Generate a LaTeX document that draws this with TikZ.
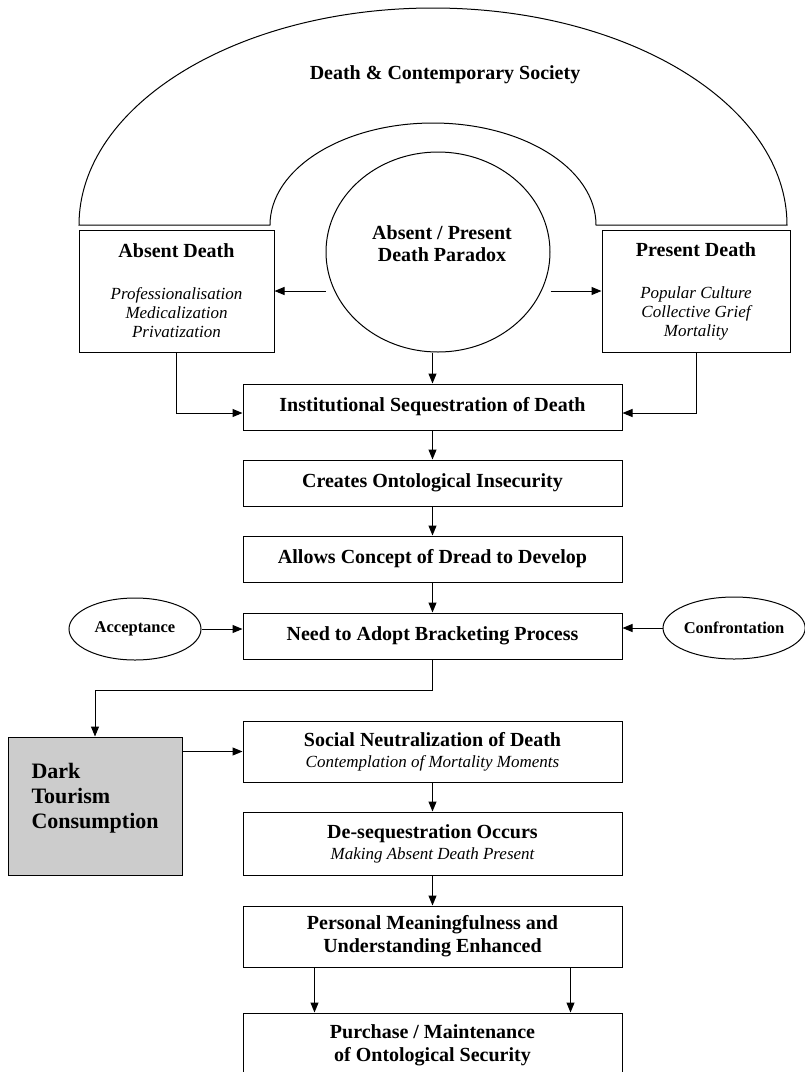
\documentclass[tikz,border=0pt]{standalone}
\usepackage{fontspec}
\setmainfont{Liberation Serif}
\usetikzlibrary{arrows.meta,positioning,shapes.geometric}
\newcommand{\subline}[1]{{\fontsize{17}{19}\selectfont\mdseries\itshape #1}}

\begin{document}
\begin{tikzpicture}[x=1pt,y=1pt,>={Triangle[length=10pt,width=8pt]},line width=1pt,
		main box/.style={rectangle,draw,minimum width=379pt,minimum height=46pt,inner sep=0pt,align=center,font=\fontsize{20}{23}\selectfont\bfseries},
		side box/.style={rectangle,draw,minimum width=195pt,minimum height=122pt,inner sep=0pt,align=center,font=\fontsize{17}{19}\selectfont\itshape},
		oval node/.style={ellipse,draw,minimum height=62pt,inner sep=0pt,font=\fontsize{16.5}{18}\selectfont\bfseries},
		paradox/.style={ellipse,draw,minimum width=224pt,minimum height=200pt,inner sep=0pt},
		title/.style={inner sep=0pt,align=center,font=\fontsize{20}{22}\selectfont\bfseries},
		dark box/.style={rectangle,draw,fill=black!20,minimum width=174pt,minimum height=138pt,inner sep=0pt},
		dark text/.style={inner sep=0pt,align=left,font=\fontsize{22}{25}\selectfont\bfseries}]
		
		\useasboundingbox (0,0) rectangle (805,-1072);
		
		\draw (79,-225) -- (270,-225) arc[start angle=180,end angle=0,x radius=163pt,y radius=102pt]
			-- (787,-225) arc[start angle=0,end angle=180,x radius=354pt,y radius=217pt] -- cycle;
		\node[title] (society) at (445,-75) {Death \& Contemporary Society};
		
		\node[paradox] (para) at (438,-252) {};
		\node[title] (paratext) at (442,-244) {Absent / Present\\Death Paradox};
		\node[side box] (absent) at (176.5,-291) {{\fontsize{20}{19}\selectfont\bfseries\upshape Absent Death}\\[23pt]Professionalisation\\Medicalization\\Privatization};
		\node[side box,minimum width=188pt] (present) at (696,-291) {{\fontsize{20}{19}\selectfont\bfseries\upshape Present Death}\\[23pt]Popular Culture\\Collective Grief\\Mortality};
		
		\node[main box] (inst) at (432.5,-407) {Institutional Sequestration of Death};
		\node[main box] (creates) [below=29pt of inst] {Creates Ontological Insecurity};
		\node[main box] (allows) [below=29pt of creates] {Allows Concept of Dread to Develop};
		\node[main box] (need) [below=30pt of allows] {Need to Adopt Bracketing Process};
		\node[oval node,minimum width=132pt] (acc) [left=41pt of need,yshift=7pt] {Acceptance};
		\node[oval node,minimum width=140pt] (conf) [right=40pt of need,yshift=8pt] {Confrontation};
		\node[main box,minimum height=61pt] (social) [below=61pt of need] {Social Neutralization of Death\\[-2pt]\subline{Contemplation of Mortality Moments}};
		\node[main box,minimum height=63pt] (deseq) [below=29pt of social] {De-sequestration Occurs\\[-2pt]\subline{Making Absent Death Present}};
		\node[main box,minimum height=61pt] (personal) [below=30pt of deseq] {Personal Meaningfulness and\\Understanding Enhanced};
		\node[main box,minimum height=64pt] (purchase) [below=45pt of personal] {Purchase / Maintenance\\of Ontological Security};
		
		\node[dark box] (dark) at (95,-806) {};
		\node[dark text,anchor=west] (darklabel) at (31,-798) {Dark\\Tourism\\Consumption};
		
		\path[->]
		(para.west |- absent.east) edge (absent.east)
		(para.east |- present.west) edge (present.west)
		(inst.north |- para.south) edge (inst.north)
		(inst) edge (creates)
		(creates) edge (allows)
		(allows) edge (need)
		(acc.east) edge (need.west |- acc.east)
		(conf.west) edge (need.east |- conf.west)
		(dark.east |- social.west) edge (social.west)
		(social) edge (deseq)
		(deseq) edge (personal)
		([xshift=-118pt]personal.south) edge ([xshift=-118pt]purchase.north)
		([xshift=138pt]personal.south) edge ([xshift=138pt]purchase.north);
		
		\draw[->] (absent.south) |- ([yshift=-6pt]inst.west);
		\draw[->] (present.south) |- ([yshift=-6pt]inst.east);
		\draw[->] (need.south) -- ++(0,-31) -| (dark.north);
\end{tikzpicture}
\end{document}
